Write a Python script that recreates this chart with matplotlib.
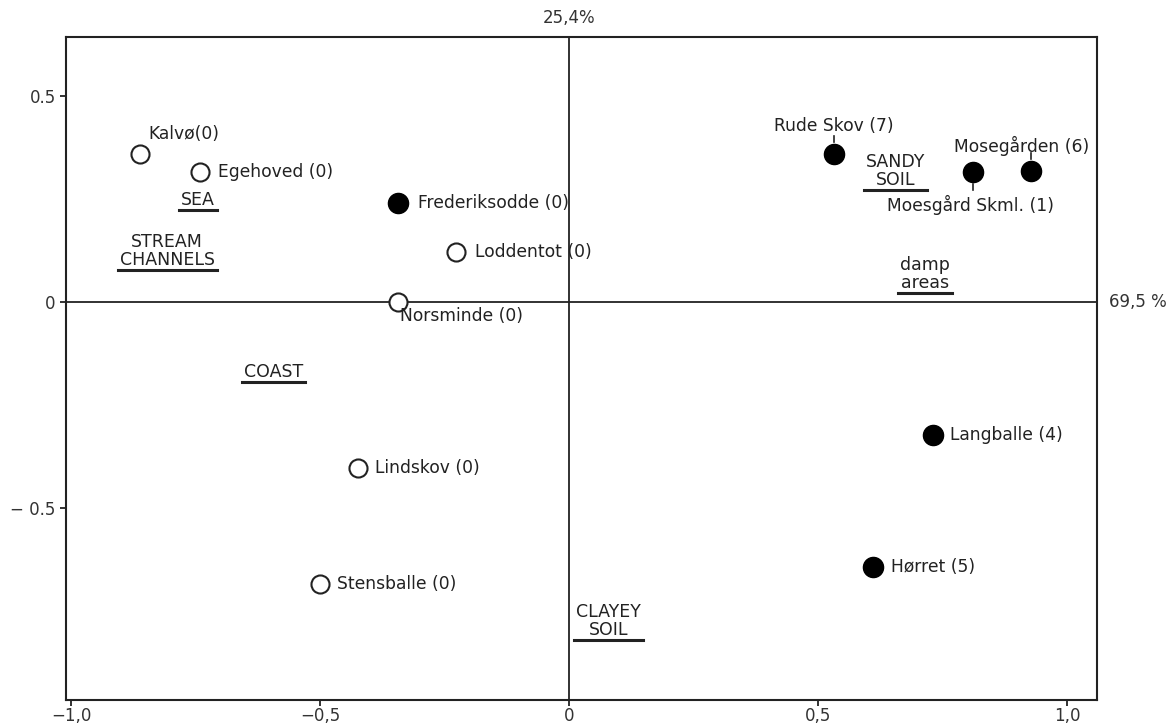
import numpy as np
import matplotlib.pyplot as plt
from matplotlib.lines import Line2D

# site scores on the first two axes (x: 69,5 %, y: 25,4 %)
sites = ["Kalvø(0)", "Egehoved (0)", "Frederiksodde (0)", "Loddentot (0)",
         "Norsminde (0)", "Lindskov (0)", "Stensballe (0)", "Rude Skov (7)",
         "Moesgård Skml. (1)", "Mosegården (6)", "Langballe (4)", "Hørret (5)"]
site_x = [-0.861, -0.741, -0.343, -0.227, -0.343, -0.424, -0.500,
          0.532, 0.811, 0.928, 0.731, 0.610]
site_y = [0.359, 0.316, 0.240, 0.121, 0.000, -0.403, -0.684,
          0.359, 0.316, 0.318, -0.323, -0.643]
filled = [False, False, True, False, False, False, False,
          True, True, True, True, True]

# environmental categories
env_names = ["SEA", "STREAM\nCHANNELS", "COAST", "SANDY\nSOIL", "damp\nareas", "CLAYEY\nSOIL"]
env_x = [-0.745, -0.807, -0.594, 0.655, 0.715, 0.080]
env_y = [0.248, 0.124, -0.170, 0.318, 0.068, -0.774]

xticks = [-1.0, -0.5, 0.0, 0.5, 1.0]
xticklabels = ["\u22121,0", "\u22120,5", "0", "0,5", "1,0"]
yticks = [-0.5, 0.0, 0.5]
yticklabels = ["\u2212 0.5", "0", "0.5"]

# label offsets in pixels: (dx, dy, ha, leader)
offsets = [(8, 20, "left", False), (18, 0, "left", False), (20, 0, "left", False),
           (19, 0, "left", False), (2, -14, "left", False), (17, 0, "left", False),
           (17, 0, "left", False), (0, 28, "center", True), (-2, -33, "center", True),
           (-10, 25, "center", True), (17, 0, "left", False), (18, 0, "left", False)]

plt.rcParams['font.family'] = ['DejaVu Sans']
fig = plt.figure(figsize=(11.71, 7.24), dpi=100)
ax = fig.add_axes([0.0564, 0.0331, 0.8804, 0.9158])
ax.set_xlim(-1.010, 1.060)
ax.set_ylim(-0.966, 0.643)

for s in ax.spines.values():
    s.set_linewidth(1.5)
    s.set_color('#222222')

ax.axhline(0, color='#222222', lw=1.3, zorder=1)
ax.axvline(0, color='#222222', lw=1.3, zorder=1)

ax.set_xticks(xticks)
ax.set_xticklabels(xticklabels, fontsize=12, color='#333333')
ax.set_yticks(yticks)
ax.set_yticklabels(yticklabels, fontsize=12, color='#333333')
ax.tick_params(direction='out', length=4, width=1.3, colors='#222222', labelcolor='#333333')
ax.tick_params(axis='x', pad=1)

for i in range(len(sites)):
    if filled[i]:
        ax.plot(site_x[i], site_y[i], 'o', ms=14.5, mfc='black', mec='black', zorder=3)
    else:
        ax.plot(site_x[i], site_y[i], 'o', ms=13, mfc='white', mec='#222222', mew=1.5, zorder=3)
    dx, dy, ha, leader = offsets[i]
    ax.annotate(sites[i], (site_x[i], site_y[i]), xytext=(dx, dy),
                textcoords='offset pixels', ha=ha, va='center',
                fontsize=12.3, color='#222222', zorder=4)
    if leader:
        # short leader between point and its label
        sgn = 1 if dy > 0 else -1
        px, py = ax.transData.transform((site_x[i], site_y[i]))
        fig.add_artist(Line2D([px, px], [py + sgn * 12, py + sgn * 18], transform=None,
                              lw=1.2, color='#222222'))

env_texts = []
for i in range(len(env_names)):
    t = ax.text(env_x[i], env_y[i], env_names[i], ha='center', va='center',
                multialignment='center', fontsize=12.5, color='#222222', linespacing=1.0)
    env_texts.append(t)

# percentages of the two axes
ax.annotate("25,4%", (0.0, 1.0), xycoords=ax.get_xaxis_transform(), xytext=(0, 10),
            textcoords='offset pixels', ha='center', va='bottom', fontsize=12, color='#333333')
ax.text(1.012, 0.0, "69,5 %", transform=ax.get_yaxis_transform(), ha='left', va='center',
        fontsize=12, color='#333333')

# underline each category label
fig.canvas.draw()
renderer = fig.canvas.get_renderer()
for t in env_texts:
    bb = t.get_window_extent(renderer)
    fig.add_artist(Line2D([bb.x0 - 2, bb.x1 + 2], [bb.y0 - 1, bb.y0 - 1], transform=None,
                          lw=2.2, color='#222222'))

fig.savefig('out.png', dpi=100)
